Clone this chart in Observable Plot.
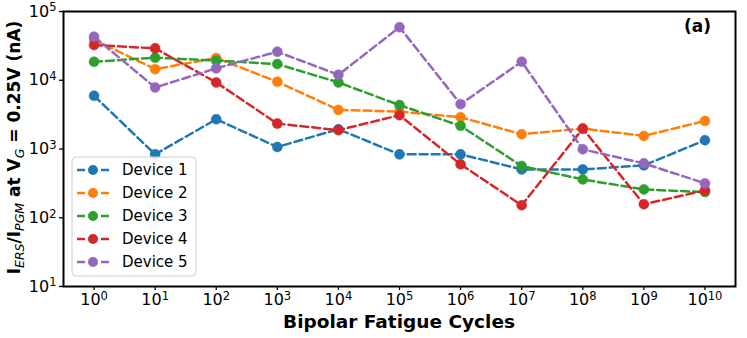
<!DOCTYPE html>
<html><head><meta charset="utf-8">
<script src="https://cdn.jsdelivr.net/npm/d3@7"></script>
<script src="https://cdn.jsdelivr.net/npm/@observablehq/plot@0.6"></script>
<style>
body{margin:0;background:#fff;}
svg{font-family:"DejaVu Sans",sans-serif;}
</style>
</head><body><div id="chart"></div>
<script>
const cycles = [1, 1e1, 1e2, 1e3, 1e4, 1e5, 1e6, 1e7, 1e8, 1e9, 1e10];
const device1 = [5940, 836, 2710, 1070, 1940, 836, 836, 505, 505, 578, 1340];
const device2 = [39000, 14500, 21100, 9500, 3700, 3500, 2900, 1640, 1980, 1550, 2560];
const device3 = [18600, 21300, 19300, 17200, 9300, 4350, 2170, 565, 361, 258, 236];
const device4 = [32600, 29100, 9300, 2340, 1880, 3100, 598, 152, 1980, 157, 250];
const device5 = [43100, 7850, 14900, 26000, 12000, 59100, 4490, 18600, 990, 618, 316];
const seriesNames = ["Device 1", "Device 2", "Device 3", "Device 4", "Device 5"];
const seriesColors = ["#1f77b4", "#ff7f0e", "#2ca02c", "#d62728", "#9467bd"];
const yTicks = [1e1, 1e2, 1e3, 1e4, 1e5];
const xLabel = "Bipolar Fatigue Cycles";
const panelLabel = "(a)";

const allSeries = [device1, device2, device3, device4, device5];
const data = [];
allSeries.forEach((vals, i) => vals.forEach((v, j) => data.push({device: seriesNames[i], x: cycles[j], y: v})));

const marks = [];
seriesNames.forEach((name, i) => {
  const rows = data.filter(d => d.device === name);
  marks.push(Plot.line(rows, {x: "x", y: "y", stroke: seriesColors[i], strokeWidth: 2.5, strokeDasharray: "8,4"}));
  marks.push(Plot.dot(rows, {x: "x", y: "y", r: 5, fill: seriesColors[i], stroke: seriesColors[i], strokeWidth: 0.5}));
});
const expFmt = d => "10^" + Math.round(Math.log10(d));
marks.push(Plot.axisX({ticks: cycles, tickFormat: expFmt, tickSize: 4, tickPadding: 3, fontSize: 16, label: null, strokeWidth: 1.3}));
marks.push(Plot.axisY({ticks: yTicks, tickFormat: expFmt, tickSize: 4, tickPadding: 3, fontSize: 16, label: null, strokeWidth: 1.3}));
marks.push(Plot.frame({stroke: "black", strokeWidth: 2}));

const chart = Plot.plot({
  width: 747, height: 338,
  marginLeft: 63, marginRight: 12, marginTop: 11, marginBottom: 52,
  style: {fontFamily: "DejaVu Sans", color: "black", background: "white"},
  x: {type: "log", domain: [Math.pow(10, -0.5), Math.pow(10, 10.5)]},
  y: {type: "log", domain: [10, 1e5]},
  marks
});
document.getElementById("chart").appendChild(chart);

const svg = d3.select(chart);
// superscript tick labels
svg.selectAll('g[aria-label="x-axis tick label"] text, g[aria-label="y-axis tick label"] text').each(function() {
  const t = this.textContent;
  if (!t.startsWith("10^")) return;
  const e = t.slice(3);
  const sel = d3.select(this);
  sel.text("");
  sel.append("tspan").text("10");
  sel.append("tspan").attr("dy", "-0.45em").attr("font-size", "0.72em").text(e);
});

// y-axis label with subscripts
const yl = svg.append("text")
  .attr("transform", "translate(20,147.5) rotate(-90)")
  .attr("text-anchor", "middle")
  .attr("font-size", 17).attr("font-weight", "bold").attr("fill", "black");
const parts = [
  ["I", 0, false], ["ERS", 1, true], ["/I", -1, false], ["PGM", 1, true],
  [" at V", -1, false], ["G", 1, true], [" = 0.25V (nA)", -1, false]
];
parts.forEach(([s, sub, it]) => {
  const ts = yl.append("tspan").text(s);
  if (sub === 1) ts.attr("dy", "0.3em").attr("font-size", 12.5).attr("font-style", "italic").attr("font-weight", "normal");
  if (sub === -1) ts.attr("dy", "-0.22em");
});

// x-axis label
svg.append("text").attr("x", 399).attr("y", 328).attr("text-anchor", "middle")
  .attr("font-size", 18.5).attr("font-weight", "bold").attr("fill", "black").text(xLabel);

// panel label
svg.append("text").attr("x", 711).attr("y", 32).attr("text-anchor", "end")
  .attr("font-size", 17).attr("font-weight", "bold").attr("fill", "black").text(panelLabel);

// legend
const lg = svg.append("g").attr("text-anchor", "start");
lg.append("rect").attr("x", 72).attr("y", 157).attr("width", 124).attr("height", 119)
  .attr("rx", 4).attr("fill", "white").attr("fill-opacity", 0.85).attr("stroke", "#d0d0d0");
seriesNames.forEach((name, i) => {
  const cy = 170 + i * 23;
  lg.append("line").attr("x1", 77).attr("x2", 109).attr("y1", cy).attr("y2", cy)
    .attr("stroke", seriesColors[i]).attr("stroke-width", 2.5).attr("stroke-dasharray", "8,4");
  lg.append("circle").attr("cx", 93).attr("cy", cy).attr("r", 5).attr("fill", seriesColors[i]);
  lg.append("text").attr("x", 122).attr("y", cy).attr("dy", "0.35em").attr("text-anchor", "start")
    .attr("font-size", 15).attr("fill", "black").text(name);
});
</script>
</body></html>
